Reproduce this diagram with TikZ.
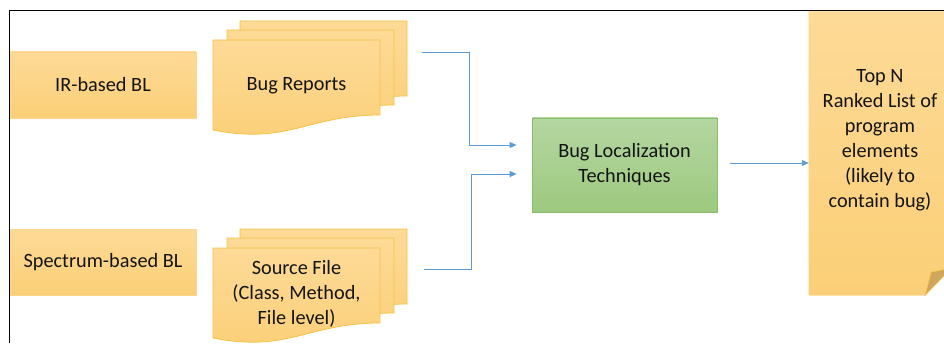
\documentclass[tikz,border=0pt]{standalone}
\usepackage{fontspec}
\setmainfont{Carlito}
\usetikzlibrary{arrows.meta,calc}
\definecolor{orT}{HTML}{FDDA97}
\definecolor{orB}{HTML}{FBCF77}
\definecolor{orL}{HTML}{F7C244}
\definecolor{grT}{HTML}{B4D6A1}
\definecolor{grB}{HTML}{9DC97F}
\definecolor{grL}{HTML}{8BBE6C}
\definecolor{arrC}{HTML}{5B9BD5}
\definecolor{foldC}{HTML}{CFA65C}
\definecolor{txt}{HTML}{141414}
\newcommand\mydocshape[2]{%
  \path[docstyle] (#1,#2) -- ($(#1,#2)+(167,0)$) -- ($(#1,#2)+(167,-75)$)
    .. controls ($(#1,#2)+(95,-75)$) and ($(#1,#2)+(75,-105)$) .. ($(#1,#2)+(0,-90)$) -- cycle;}
\begin{document}
\begin{tikzpicture}[x=1pt,y=1pt,
  lbl/.style={font=\fontsize{20.3}{25}\selectfont, text=txt, align=center, inner sep=0pt},
  plainbox/.style={draw=orT!60!orB, line width=0.6pt, top color=orT, bottom color=orB},
  docstyle/.style={draw=orL, line width=0.8pt, top color=orT, bottom color=orB},
  greenbox/.style={draw=grL, line width=0.8pt, top color=grT, bottom color=grB},
  arr/.style={draw=arrC, line width=0.9pt, -{Triangle[length=7pt,width=6pt]}},
  frameline/.style={draw=black, line width=1.8pt}]
\useasboundingbox (0,0) rectangle (944,343);

% left boxes
\node[plainbox, lbl, minimum width=186pt, minimum height=66pt] (ir) at (103,258) {IR-based BL};
\node[plainbox, lbl, minimum width=186pt, minimum height=66pt] (sb) at (103,81) {Spectrum-based BL};

% bug report documents
\mydocshape{240}{322}
\mydocshape{227}{313}
\mydocshape{213}{303}
\node[lbl] (br) at (296.5,257) {Bug Reports};

% source file documents
\mydocshape{240}{114}
\mydocshape{227}{105}
\mydocshape{213}{95}
\node[lbl] (sf) at (296.5,49) {Source File\\(Class, Method,\\File level)};

% central box
\node[greenbox, lbl, minimum width=185pt, minimum height=94pt] (blt) at (624.5,178) {Bug Localization\\Techniques};

% output note
\node[minimum width=142pt, minimum height=283pt, inner sep=0pt] (out) at (880,189.5) {};
\path[draw=orT!60!orB, line width=0.6pt, top color=orT, bottom color=orB]
  (out.north west) -- (out.north east) -- ($(out.south east)+(0,27)$)
  -- ($(out.south east)+(-26,0)$) -- (out.south west) -- cycle;
\path[fill=foldC, draw=orL, line width=0.5pt]
  ($(out.south east)+(-26,0)$) -- ($(out.south east)+(-20,23)$) -- ($(out.south east)+(0,27)$) -- cycle;
\node[lbl] (outt) at (880,203) {Top N\\Ranked List of\\program\\elements\\(likely to\\contain bug)};

% connectors
\coordinate (a1) at (422,291);
\coordinate (a2) at (424,74);
\draw[arr, shorten >=15pt] (a1) -- ++(47,0) |- ([yshift=20pt]blt.west);
\draw[arr, shorten >=15pt] (a2) -- ++(47,0) |- ([yshift=-9pt]blt.west);
\draw[arr, shorten <=13pt] ([yshift=2pt]blt.east) -- ([yshift=2pt]blt.east -| out.west);

% frame
\coordinate (fbl) at (9.5,0);
\coordinate (ftl) at (9.5,332.5);
\coordinate (ftr) at (944,332.5);
\draw[frameline] (fbl) -- (ftl) -- (ftr);
\end{tikzpicture}
\end{document}
